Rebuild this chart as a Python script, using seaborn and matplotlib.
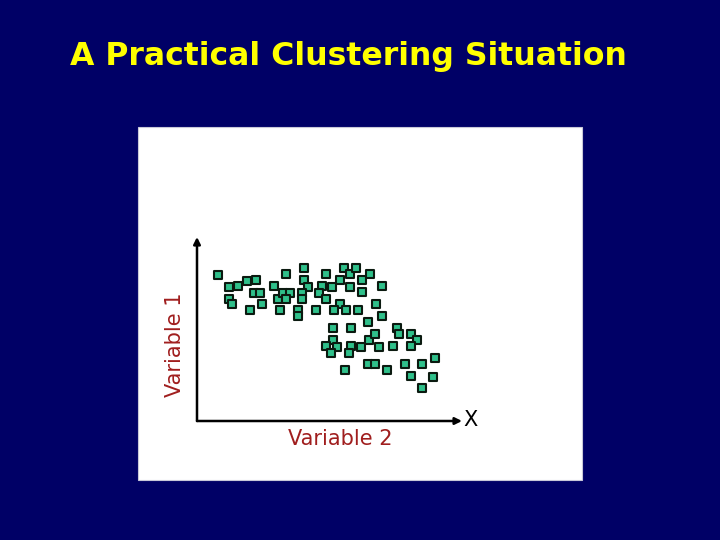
import numpy as np
import pandas as pd
import seaborn as sns
import matplotlib.pyplot as plt
from matplotlib.patches import Rectangle

# Variable 2 (horizontal) and Variable 1 (vertical)
variable_2 = [21, 32, 41, 50, 59, 32, 35, 53, 57, 63, 65, 77, 89, 81, 86, 93, 89, 83,
              107, 107, 111, 105, 105, 101, 101, 119, 129, 125, 122, 129, 135, 143, 147,
              153, 159, 153, 143, 137, 149, 161, 165, 173, 165, 179, 185, 185, 171, 136,
              154, 136, 129, 140, 134, 154, 152, 164, 172, 178, 182, 196, 200, 202, 214,
              220, 214, 148, 171, 178, 190, 208, 225, 238, 214, 236, 225]
variable_1 = [146, 134, 135, 140, 141, 122, 117, 111, 128, 128, 117, 135, 147, 122, 128, 128, 122, 111,
              153, 141, 134, 128, 122, 111, 105, 111, 147, 135, 128, 122, 134, 141, 153,
              147, 153, 134, 117, 111, 111, 111, 141, 147, 129, 117, 135, 105, 99, 93,
              93, 81, 75, 74, 68, 75, 68, 74, 81, 87, 74, 75, 93, 87, 87,
              81, 75, 51, 57, 57, 51, 57, 57, 63, 45, 44, 33]

df = pd.DataFrame({"Variable 2": variable_2, "Variable 1": variable_1})

navy = "#000066"
fig = plt.figure(figsize=(7.2, 5.4), dpi=100, facecolor=navy)

# white panel behind the plot
fig.patches.append(Rectangle((138 / 720, 1 - 480 / 540), 444 / 720, 353 / 540,
                             transform=fig.transFigure, facecolor="white",
                             edgecolor="#c8c8d8", linewidth=0.8, zorder=0))

fig.text(348 / 720, 1 - 57 / 540, "A Practical Clustering Situation", color="#ffff00",
         fontsize=22.7, fontweight="bold", ha="center", va="center")

ax = fig.add_axes([197 / 720, 1 - 421 / 540, 265 / 720, 184 / 540])
ax.set_zorder(2)
ax.set_facecolor("none")
sns.scatterplot(data=df, x="Variable 2", y="Variable 1", ax=ax, marker="s", s=32,
                color="#2fc08a", edgecolor="#0b1a10", linewidth=1.5, zorder=3)
ax.set_xlim(0, 265)
ax.set_ylim(0, 184)
for sp in ax.spines.values():
    sp.set_visible(False)
ax.set_xticks([])
ax.set_yticks([])
ax.set_xlabel("")
ax.set_ylabel("")

arrow = dict(arrowstyle="-|>", color="black", lw=1.8, mutation_scale=10, shrinkA=0, shrinkB=0)
ax.annotate("", xy=(1, 0), xytext=(0, 0), xycoords="axes fraction", arrowprops=arrow, clip_on=False)
ax.annotate("", xy=(0, 1), xytext=(0, 0), xycoords="axes fraction", arrowprops=arrow, clip_on=False)

label_color = "#a01e1e"
fig.text(340 / 720, 1 - 439 / 540, "Variable 2", color=label_color, fontsize=15,
         ha="center", va="center", zorder=3)
fig.text(175 / 720, 1 - 345 / 540, "Variable 1", color=label_color, fontsize=15,
         ha="center", va="center", rotation=90, zorder=3)
fig.text(471 / 720, 1 - 420 / 540, "X", color="black", fontsize=15,
         ha="center", va="center", zorder=3)

plt.savefig("out.png", dpi=100, facecolor=navy)
